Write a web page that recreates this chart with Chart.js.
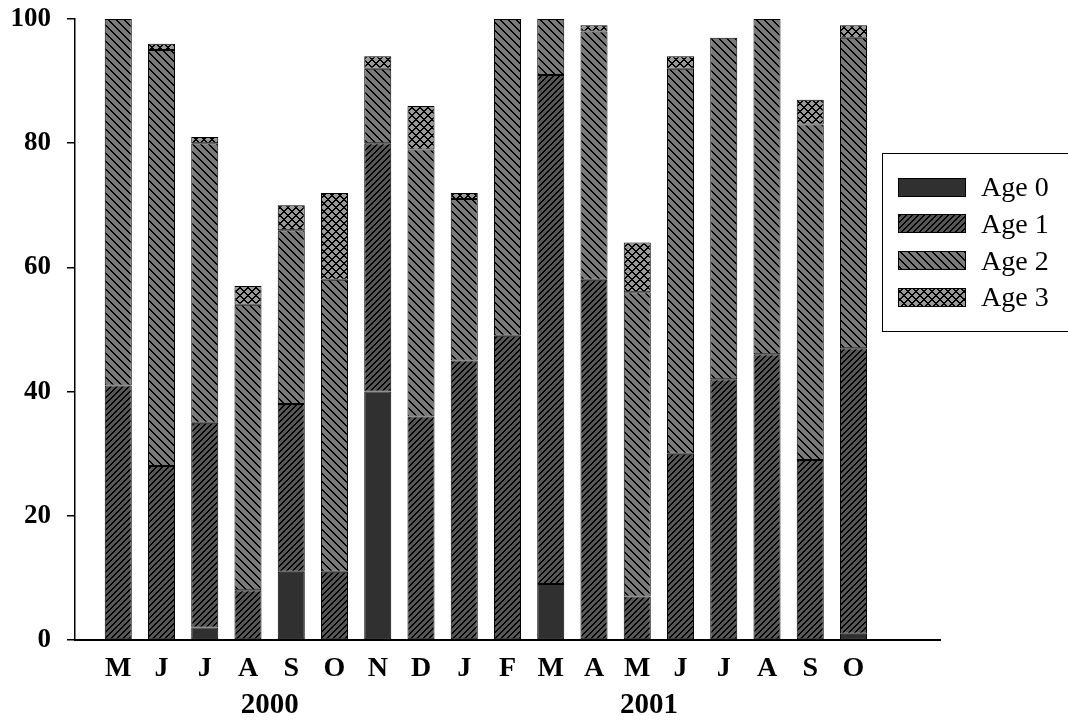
<!DOCTYPE html>
<html>
<head>
<meta charset="utf-8">
<script src="https://cdn.jsdelivr.net/npm/chart.js@4.4.1/dist/chart.umd.min.js"></script>
<style>
  html, body { margin: 0; padding: 0; background: #fff; }
  #wrap { width: 1068px; height: 720px; }
</style>
</head>
<body>
<div id="wrap"><canvas id="c" width="1068" height="720"></canvas></div>
<script>
// Data (percent of catch by age class)
const months = ['M', 'J', 'J', 'A', 'S', 'O', 'N', 'D', 'J', 'F', 'M', 'A', 'M', 'J', 'J', 'A', 'S', 'O'];
const years = ['2000', '2001'];
const yearPos = [4.5, 13.27]; // where the year label sits on the month axis
const age0 = [0, 0, 2, 0, 11, 0, 40, 0, 0, 0, 9, 0, 0, 0, 0, 0, 0, 1];
const age1 = [41, 28, 33, 8, 27, 11, 40, 36, 45, 49, 82, 58, 7, 30, 42, 46, 29, 46];
const age2 = [59, 67, 45, 46, 28, 47, 12, 43, 26, 51, 9, 40, 49, 62, 55, 54, 54, 50];
const age3 = [0, 1, 1, 3, 4, 14, 2, 7, 1, 0, 0, 1, 8, 2, 0, 0, 4, 2];
const seriesNames = ['Age 0', 'Age 1', 'Age 2', 'Age 3'];
const yTicks = [0, 20, 40, 60, 80, 100];

const SERIF = '"Liberation Serif", "Times New Roman", serif';
const ctx = document.getElementById('c').getContext('2d');

// pixel hatch tiles, crisp 1-2px staircase lines like the original
function hatch(bg, dirs, p) {
    const c = document.createElement('canvas');
    c.width = p; c.height = p;
    const g = c.getContext('2d');
    g.fillStyle = bg;
    g.fillRect(0, 0, p, p);
    g.fillStyle = '#000';
    dirs.forEach(d => {
        for (let i = 0; i < p; i++) {
            const x = d === '\\' ? i : p - 1 - i;
            g.fillRect(x, i, 1, 1);
            g.fillRect(d === '\\' ? (x + 1) % p : (x + p - 1) % p, i, 1, 1);
        }
    });
    return ctx.createPattern(c, 'repeat');
}

const fills = [
    '#303030',
    hatch('#565656', ['/'], 6),
    hatch('#7a7a7a', ['\\'], 8),
    hatch('#999999', ['/', '\\'], 8)
];

// one empty slot before the first month and two after the last
const pad = arr => [null, ...arr, null, null];
const labels = pad(months).map(m => m === null ? '' : m);
const series = [age0, age1, age2, age3];

const yearPlugin = {
    id: 'yearLabels',
    afterDraw(chart, args, opts) {
        const g = chart.ctx;
        const xs = chart.scales.x;
        g.save();
        g.fillStyle = '#000';
        g.font = 'bold 29px ' + SERIF;
        g.textAlign = 'center';
        g.textBaseline = 'alphabetic';
        years.forEach((y, i) => {
            g.fillText(y, xs.getPixelForValue(yearPos[i]), opts.baseline);
        });
        g.restore();
    }
};

const legendPlugin = {
    id: 'ageLegend',
    afterDraw(chart, args, o) {
        const g = chart.ctx;
        g.save();
        g.strokeStyle = '#000';
        g.lineWidth = 1;
        g.strokeRect(o.x + 0.5, o.y + 0.5, o.w, o.h);
        g.font = '28px ' + SERIF;
        g.textAlign = 'left';
        g.textBaseline = 'alphabetic';
        chart.data.datasets.forEach((ds, i) => {
            const cy = o.firstRow + i * o.rowGap;
            const top = Math.round(cy - o.swH / 2);
            g.fillStyle = ds.backgroundColor;
            g.fillRect(o.swX, top, o.swW, o.swH);
            g.strokeRect(o.swX + 0.5, top + 0.5, o.swW - 1, o.swH - 1);
            g.fillStyle = '#000';
            g.fillText(ds.label, o.textX, cy + 9);
        });
        g.restore();
    }
};

const chart = new Chart(ctx, {
    type: 'bar',
    data: {
        labels: labels,
        datasets: seriesNames.map((name, i) => ({
            label: name,
            data: pad(series[i]),
            backgroundColor: fills[i],
            borderColor: '#000',
            borderWidth: 1,
            borderSkipped: false
        }))
    },
    options: {
        responsive: false,
        animation: false,
        layout: { padding: { top: 19, right: 128, left: 0, bottom: 0 } },
        datasets: { bar: { categoryPercentage: 1, barPercentage: 0.625 } },
        plugins: {
            legend: { display: false },
            tooltip: { enabled: false },
            yearLabels: { baseline: 713 },
            ageLegend: { x: 882, y: 153, w: 200, h: 178, swX: 898, swW: 68, swH: 19,
                         firstRow: 187, rowGap: 36.8, textX: 981 }
        },
        scales: {
            x: {
                stacked: true,
                offset: false,
                grid: { display: false, drawTicks: false },
                border: { display: true, color: '#000', width: 2 },
                ticks: {
                    autoSkip: false, maxRotation: 0, color: '#000', padding: 12,
                    font: { family: SERIF, size: 28, weight: 'bold' }
                },
                afterFit(s) { s.height = 80; }
            },
            y: {
                stacked: true,
                min: 0,
                max: 100,
                afterBuildTicks(s) { s.ticks = yTicks.map(v => ({ value: v })); },
                ticks: {
                    color: '#000', padding: 16,
                    font: { family: SERIF, size: 27, weight: 'bold' }
                },
                grid: { drawOnChartArea: false, tickLength: 8, color: '#000', lineWidth: 1.5 },
                border: { color: '#000', width: 1.5 },
                afterFit(s) {
                    s.width = 75;
                    s.paddingTop = 0;
                    s.paddingBottom = 0;
                }
            }
        }
    },
    plugins: [yearPlugin, legendPlugin]
});
</script>
</body>
</html>
